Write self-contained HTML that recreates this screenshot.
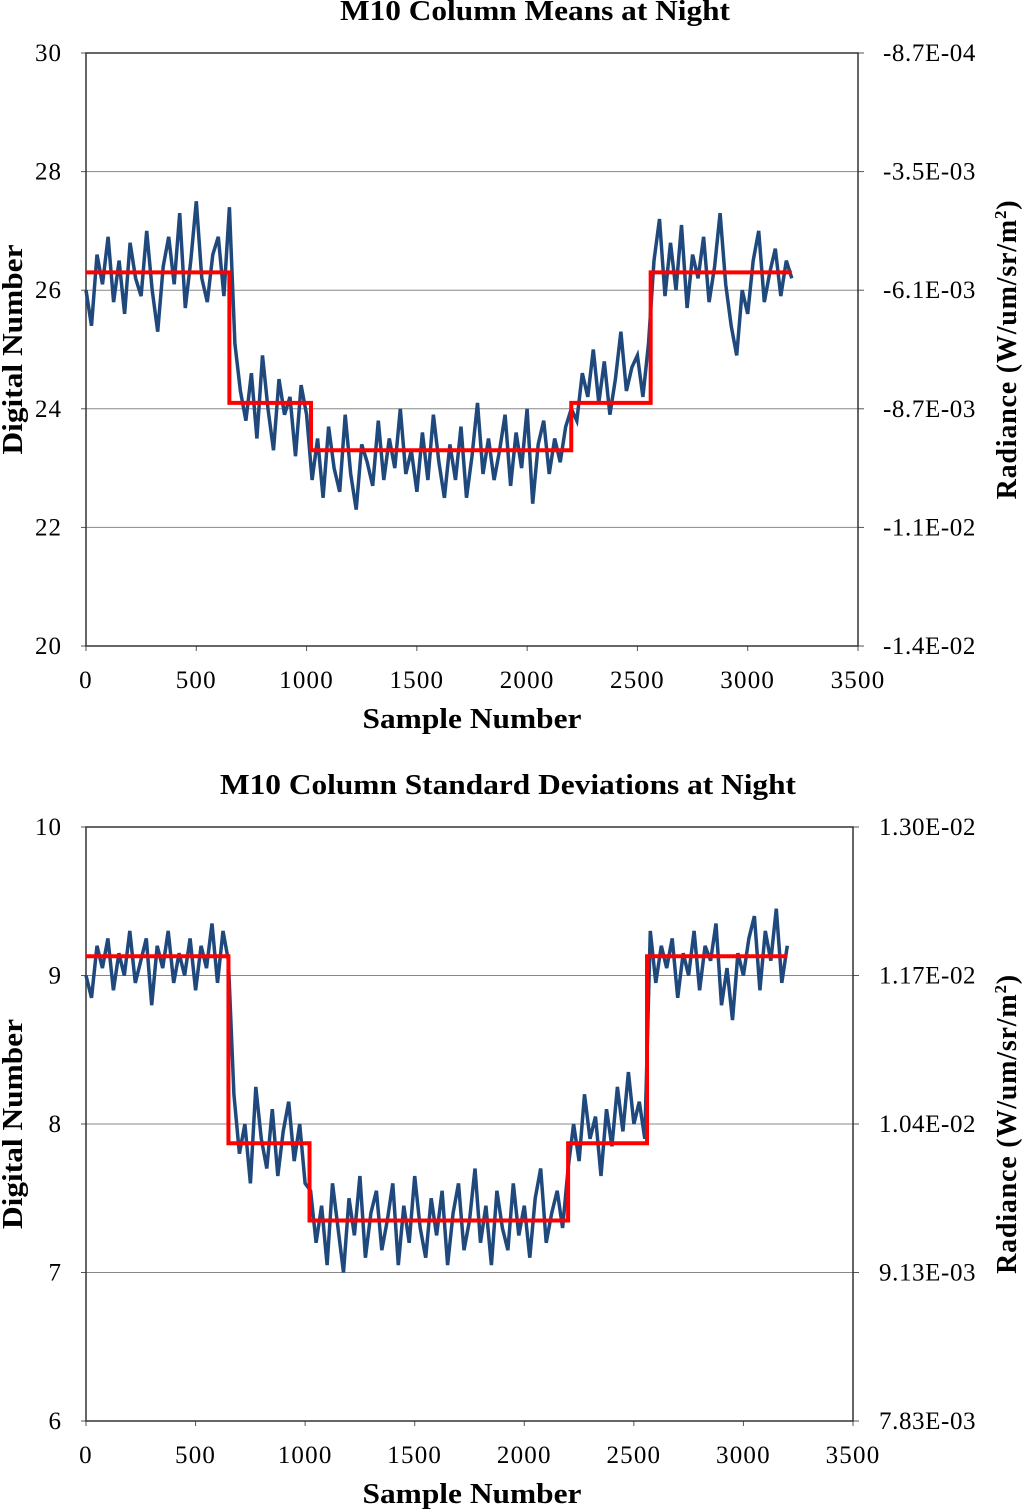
<!DOCTYPE html>
<html><head><meta charset="utf-8">
<style>
body{margin:0;background:#fff;}
svg{display:block;font-family:"Liberation Serif",serif;}
</style></head>
<body>
<svg id="chart" width="1024" height="1511" viewBox="0 0 1024 1511" xmlns="http://www.w3.org/2000/svg"></svg>
<script>
const xTicks=[0,500,1000,1500,2000,2500,3000,3500];
const topLeftTicks=[20,22,24,26,28,30];
const topRightLabels=["-1.4E-02","-1.1E-02","-8.7E-03","-6.1E-03","-3.5E-03","-8.7E-04"];
const botLeftTicks=[6,7,8,9,10];
const botRightLabels=["7.83E-03","9.13E-03","1.04E-02","1.17E-02","1.30E-02"];
const topMeans=[26.0,25.4,26.6,26.1,26.9,25.8,26.5,25.6,26.8,26.2,25.9,27.0,26.0,25.3,26.4,26.9,26.1,27.3,25.7,26.5,27.5,26.2,25.8,26.6,26.9,25.9,27.4,
25.1,24.3,23.8,24.6,23.5,24.9,24.0,23.3,24.5,23.9,24.2,23.2,24.4,23.9,
22.8,23.5,22.5,23.7,23.0,22.6,23.9,22.9,22.3,23.4,23.1,22.7,23.8,22.8,23.5,23.0,24.0,22.9,23.3,22.6,23.6,22.8,23.9,23.1,22.5,23.4,22.8,23.7,22.5,23.2,24.1,22.9,23.5,22.8,23.3,23.9,22.7,23.6,23.0,24.0,22.4,23.4,23.8,22.9,23.5,23.1,23.7,
24.0,23.8,24.6,24.2,25.0,24.1,24.8,23.9,24.5,25.3,24.3,24.7,24.9,24.2,25.1,
26.5,27.2,25.9,26.8,26.0,27.1,25.7,26.6,26.2,26.9,25.8,26.4,27.3,26.1,25.4,24.9,26.0,25.6,26.5,27.0,25.8,26.3,26.7,25.9,26.5,26.2];
const botStd=[9.0,8.85,9.2,9.05,9.25,8.9,9.15,9.0,9.3,8.95,9.1,9.25,8.8,9.2,9.05,9.3,8.95,9.15,9.0,9.25,8.9,9.2,9.05,9.35,8.95,9.3,9.1,
8.2,7.8,8.0,7.6,8.25,7.9,7.7,8.1,7.65,7.95,8.15,7.75,8.0,7.6,
7.55,7.2,7.45,7.05,7.6,7.3,7.0,7.5,7.25,7.65,7.1,7.4,7.55,7.15,7.35,7.6,7.05,7.45,7.2,7.65,7.3,7.1,7.5,7.25,7.55,7.05,7.4,7.6,7.15,7.35,7.7,7.2,7.45,7.05,7.55,7.3,7.15,7.6,7.25,7.45,7.1,7.5,7.7,7.2,7.4,7.55,7.3,
7.7,8.0,7.75,8.2,7.9,8.05,7.65,8.1,7.85,8.25,7.95,8.35,8.0,8.15,7.9,
9.3,8.95,9.2,9.05,9.25,8.85,9.15,9.0,9.3,8.9,9.2,9.1,9.35,8.8,9.05,8.7,9.15,9.0,9.25,9.4,8.9,9.3,9.1,9.45,8.95,9.2];
const stepX=[0,650,1020,2200,2560,3200];
const topSteps=[26.3,24.1,23.3,24.1,26.3];
const botSteps=[9.13,7.87,7.35,7.87,9.13];
const NS="http://www.w3.org/2000/svg";
const svg=document.getElementById('chart');
function mk(tag,attrs,parent){const e=document.createElementNS(NS,tag);for(const k in attrs)e.setAttribute(k,attrs[k]);(parent||svg).appendChild(e);return e;}
function txt(x,y,s,attrs){const e=mk('text',Object.assign({x:x,y:y},attrs||{}));e.textContent=s;return e;}
function drawChart(cfg){
  const sx=v=>cfg.x0+(v/3500)*(cfg.x1-cfg.x0);
  const sy=v=>cfg.y1-(v-cfg.ymin)/(cfg.ymax-cfg.ymin)*(cfg.y1-cfg.y0);
  const g=mk('g',{});
  
  
  const t=txt(cfg.titleX,cfg.titleY,cfg.title,{'font-size':28,'font-weight':'bold','text-anchor':'middle',textLength:cfg.titleW,lengthAdjust:'spacingAndGlyphs'});
  
  cfg.leftTicks.forEach((v,i)=>{
    const y=sy(v);
    if(i>0&&i<cfg.leftTicks.length-1){const l=mk('line',{x1:cfg.x0,x2:cfg.x1,y1:y,y2:y,stroke:'#888','stroke-width':1});}
    mk('line',{x1:cfg.x0-5,x2:cfg.x0,y1:y,y2:y,stroke:'#555'});
    mk('line',{x1:cfg.x1,x2:cfg.x1+6,y1:y,y2:y,stroke:'#555'});
    const a=txt(cfg.x0-24,y+8,String(v),{'font-size':25,'text-anchor':'end','letter-spacing':'1'});
    const b=txt(cfg.x1+cfg.r2,y+8,cfg.rightLabels[i],{'font-size':25,'letter-spacing':'0.6'});
  });
  xTicks.forEach(v=>{
    const x=sx(v);
    mk('line',{x1:x,x2:x,y1:cfg.y1,y2:cfg.y1+5,stroke:'#555'});
    const a=txt(x,cfg.y1+42,String(v),{'font-size':25,'text-anchor':'middle','letter-spacing':'1.2'});
  });
  const f=mk('rect',{x:cfg.x0,y:cfg.y0,width:cfg.x1-cfg.x0,height:cfg.y1-cfg.y0,fill:'none',stroke:'#333','stroke-width':1.5});
  
  const n=cfg.data.length;
  const pts=cfg.data.map((v,i)=>sx(i*3200/(n-1)).toFixed(1)+','+sy(v).toFixed(1)).join(' ');
  const pl=mk('polyline',{points:pts,fill:'none',stroke:'#1f497d','stroke-width':3.5,'stroke-linejoin':'miter'});
  
  let sp=[];
  cfg.steps.forEach((v,i)=>{sp.push(sx(stepX[i])+','+sy(v));sp.push(sx(stepX[i+1])+','+sy(v));});
  const st=mk('polyline',{points:sp.join(' '),fill:'none',stroke:'#ff0000','stroke-width':4});
  
  const xl=txt(472,cfg.y1+82,'Sample Number',{'font-size':28,'font-weight':'bold','text-anchor':'middle',textLength:219,lengthAdjust:'spacingAndGlyphs'});
  
  const cy=(cfg.y0+cfg.y1)/2;
  const yl=txt(0,0,'Digital Number',{'font-size':28,'font-weight':'bold','text-anchor':'middle',textLength:210,lengthAdjust:'spacingAndGlyphs',transform:`translate(22,${cy}) rotate(-90)`});
  
  const y2=mk('text',{x:0,y:0,'font-size':28,'font-weight':'bold','text-anchor':'middle','letter-spacing':'0.8',transform:`translate(1016,${cy}) rotate(-90)`});
  y2.innerHTML='Radiance (W/um/sr/m<tspan dy="-10" font-size="17">2</tspan><tspan dy="10">)</tspan>';
  
}
drawChart({name:'means-chart',title:'M10 Column Means at Night',titleX:535,titleW:390,titleY:20,x0:86,x1:858,y0:53,y1:646,ymin:20,ymax:30,r2:25,leftTicks:topLeftTicks,rightLabels:topRightLabels,data:topMeans,steps:topSteps});
drawChart({name:'std-chart',title:'M10 Column Standard Deviations at Night',titleX:508,titleW:576,titleY:794,x0:86,x1:853,y0:827,y1:1421,ymin:6,ymax:10,r2:26,leftTicks:botLeftTicks,rightLabels:botRightLabels,data:botStd,steps:botSteps});
</script>
</body></html>
